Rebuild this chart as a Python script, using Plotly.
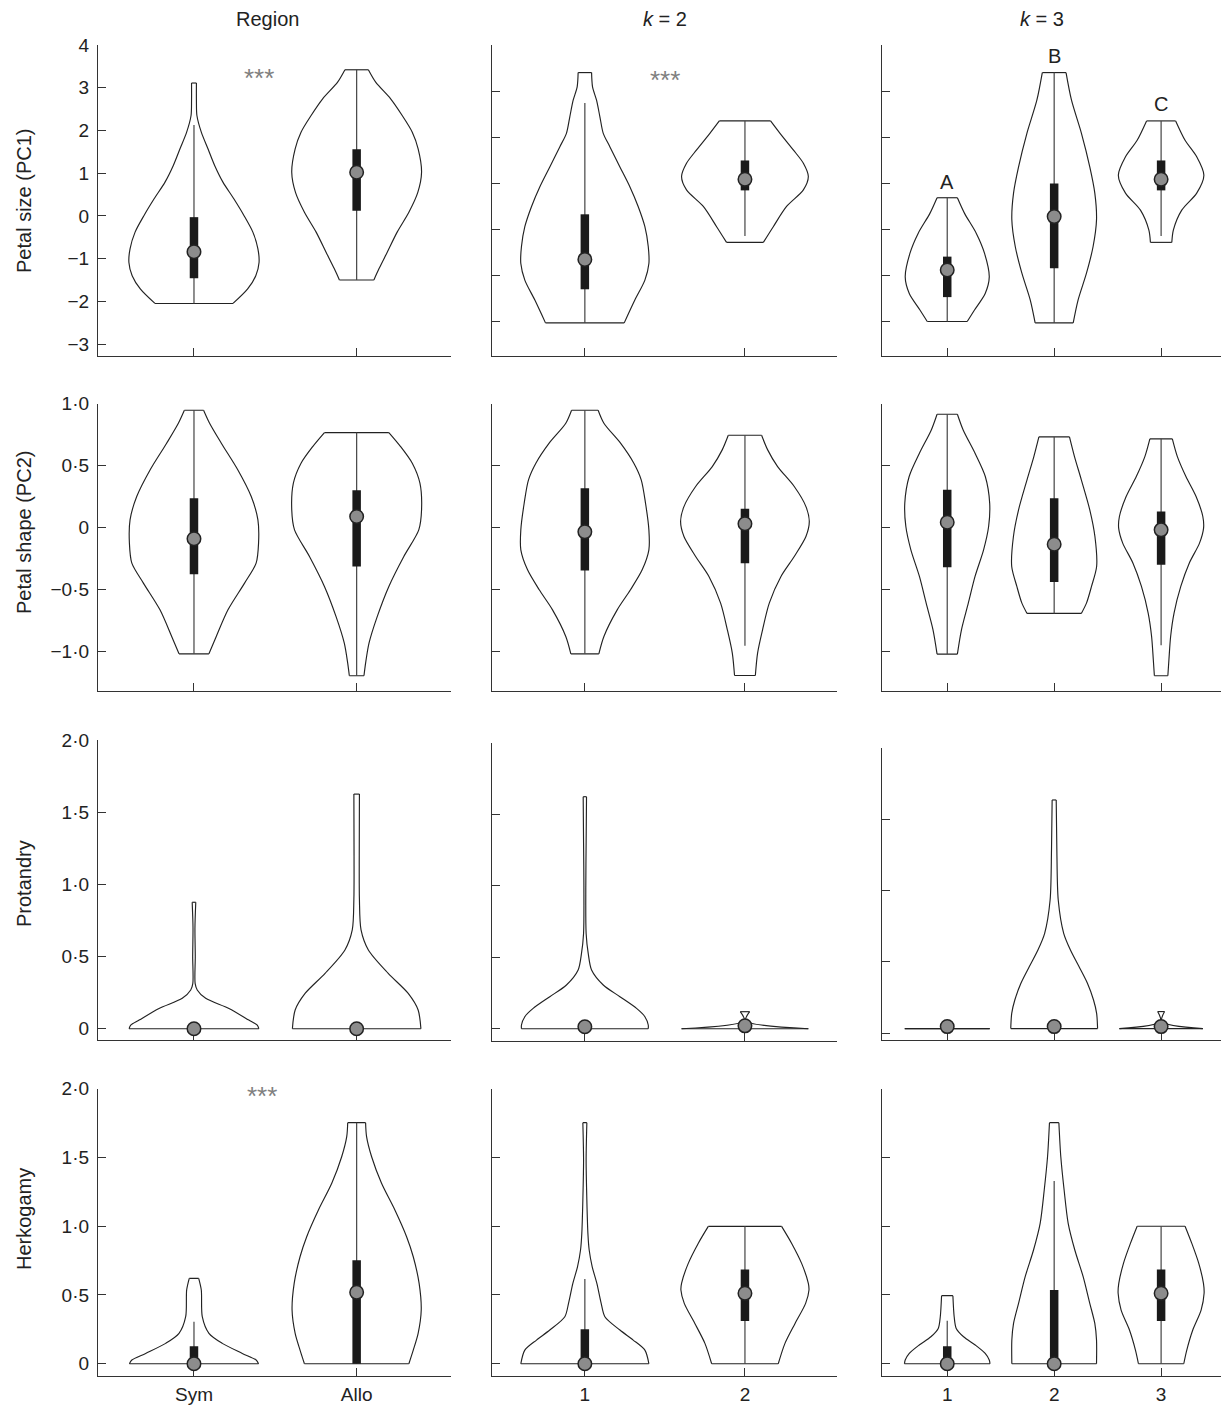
import plotly.graph_objects as go

W, H = 1221, 1406

# ------------------------------------------------------------------ data
ROW_TITLES = ["Petal size (PC1)", "Petal shape (PC2)", "Protandry", "Herkogamy"]
COL_TITLES = ["Region", "<i>k</i> = 2", "<i>k</i> = 3"]
CATS_REGION = ["Sym", "Allo"]
CATS_K2 = ["1", "2"]
CATS_K3 = ["1", "2", "3"]

PC1_TICKS = [4, 3, 2, 1, 0, -1, -2, -3]
PC1_TICKS_K = [4, 3, 2, 1, 0, -1, -2]
PC1_TICKTEXT = ["4", "3", "2", "1", "0", "−1", "−2", "−3"]
PC2_TICKS = [1.0, 0.5, 0, -0.5, -1.0]
PC2_TICKTEXT = ["1·0", "0·5", "0", "−0·5", "−1·0"]
POS_TICKS = [2.0, 1.5, 1.0, 0.5, 0]
POS_TICKTEXT = ["2·0", "1·5", "1·0", "0·5", "0"]

# --- Petal size (PC1), Region
PC1_SYM_V = [-2.05, -1.71, -1.40, -1.09, -0.77, -0.38, 0.01, 0.40, 0.79, 1.18, 1.57, 1.96, 2.35, 2.70, 3.11]
PC1_SYM_W = [0.240, 0.330, 0.380, 0.400, 0.393, 0.362, 0.307, 0.245, 0.178, 0.127, 0.086, 0.045, 0.018, 0.015, 0.015]
PC1_ALLO_V = [-1.50, -1.24, -0.85, -0.38, 0.085, 0.55, 1.02, 1.57, 1.96, 2.35, 2.74, 3.13, 3.42]
PC1_ALLO_W = [0.106, 0.137, 0.188, 0.249, 0.321, 0.376, 0.399, 0.378, 0.342, 0.280, 0.209, 0.117, 0.072]
PC1_REGION_MED = [-0.84, 1.02]
PC1_REGION_Q1 = [-1.46, 0.12]
PC1_REGION_Q3 = [-0.03, 1.56]
PC1_REGION_WLO = [-2.05, -1.50]
PC1_REGION_WHI = [2.13, 3.42]

# --- Petal size (PC1), k = 2
PC1_K2_1_V = [-2.04, -1.54, -1.11, -0.75, -0.38, 0.05, 0.49, 0.92, 1.35, 1.79, 2.08, 2.44, 2.80, 3.09, 3.40]
PC1_K2_1_W = [0.246, 0.313, 0.375, 0.400, 0.396, 0.375, 0.333, 0.281, 0.219, 0.156, 0.115, 0.094, 0.073, 0.048, 0.042]
PC1_K2_2_V = [-0.29, 0.05, 0.49, 0.85, 1.14, 1.43, 1.72, 2.08, 2.35]
PC1_K2_2_W = [0.115, 0.177, 0.260, 0.365, 0.396, 0.365, 0.302, 0.219, 0.160]
PC1_K2_MED = [-0.66, 1.08]
PC1_K2_Q1 = [-1.31, 0.84]
PC1_K2_Q3 = [0.32, 1.49]
PC1_K2_WLO = [-2.04, -0.15]
PC1_K2_WHI = [2.74, 2.35]

# --- Petal size (PC1), k = 3
PC1_K3_1_V = [-2.01, -1.76, -1.40, -1.04, -0.53, -0.09, 0.34, 0.68]
PC1_K3_1_W = [0.187, 0.255, 0.355, 0.393, 0.349, 0.271, 0.162, 0.095]
PC1_K3_2_V = [-2.04, -1.54, -0.96, -0.38, 0.20, 0.78, 1.35, 2.08, 2.80, 3.40]
PC1_K3_2_W = [0.178, 0.224, 0.302, 0.364, 0.396, 0.380, 0.333, 0.255, 0.162, 0.111]
PC1_K3_3_V = [-0.29, -0.02, 0.41, 0.78, 1.17, 1.57, 1.93, 2.35]
PC1_K3_3_W = [0.100, 0.115, 0.193, 0.333, 0.400, 0.333, 0.224, 0.136]
PC1_K3_MED = [-0.89, 0.27, 1.08]
PC1_K3_Q1 = [-1.48, -0.85, 0.84]
PC1_K3_Q3 = [-0.60, 0.99, 1.49]
PC1_K3_WLO = [-2.01, -2.04, -0.15]
PC1_K3_WHI = [0.68, 3.40, 2.35]
PC1_K3_LETTERS = ["A", "B", "C"]
PC1_K3_LETTER_Y = [1.03, 3.76, 2.72]

# --- Petal shape (PC2), Region
PC2_SYM_V = [-1.02, -0.88, -0.665, -0.449, -0.288, -0.126, 0.062, 0.25, 0.465, 0.681, 0.842, 0.947]
PC2_SYM_W = [0.092, 0.137, 0.209, 0.311, 0.382, 0.397, 0.393, 0.352, 0.270, 0.168, 0.096, 0.059]
PC2_ALLO_V = [-1.197, -1.095, -0.934, -0.718, -0.476, -0.234, -0.019, 0.143, 0.358, 0.519, 0.654, 0.767]
PC2_ALLO_W = [0.045, 0.055, 0.076, 0.127, 0.198, 0.290, 0.382, 0.399, 0.389, 0.342, 0.270, 0.198]
PC2_REGION_MED = [-0.091, 0.089]
PC2_REGION_Q1 = [-0.377, -0.315]
PC2_REGION_Q3 = [0.237, 0.301]
PC2_REGION_WLO = [-1.02, -1.197]
PC2_REGION_WHI = [0.947, 0.767]

# --- Petal shape (PC2), k = 2
PC2_K2_1_V = [-1.02, -0.88, -0.665, -0.503, -0.342, -0.18, -0.019, 0.196, 0.385, 0.519, 0.681, 0.842, 0.947]
PC2_K2_1_W = [0.0875, 0.119, 0.202, 0.285, 0.358, 0.400, 0.400, 0.379, 0.352, 0.306, 0.223, 0.119, 0.083]
PC2_K2_2_V = [-1.195, -1.014, -0.826, -0.611, -0.395, -0.234, -0.073, 0.048, 0.169, 0.331, 0.492, 0.627, 0.745]
PC2_K2_2_W = [0.065, 0.079, 0.110, 0.152, 0.225, 0.308, 0.381, 0.402, 0.381, 0.308, 0.204, 0.142, 0.104]
PC2_K2_MED = [-0.035, 0.03]
PC2_K2_Q1 = [-0.347, -0.288]
PC2_K2_Q3 = [0.317, 0.151]
PC2_K2_WLO = [-1.02, -0.955]
PC2_K2_WHI = [0.947, 0.745]

# --- Petal shape (PC2), k = 3
PC2_K3_1_V = [-1.022, -0.826, -0.611, -0.395, -0.18, 0.008, 0.196, 0.412, 0.60, 0.788, 0.915]
PC2_K3_1_W = [0.095, 0.133, 0.197, 0.260, 0.340, 0.387, 0.397, 0.356, 0.260, 0.149, 0.095]
PC2_K3_2_V = [-0.694, -0.611, -0.476, -0.315, -0.073, 0.143, 0.385, 0.573, 0.732]
PC2_K3_2_W = [0.254, 0.302, 0.349, 0.397, 0.381, 0.333, 0.254, 0.190, 0.143]
PC2_K3_3_V = [-1.197, -1.068, -0.88, -0.691, -0.476, -0.288, -0.126, -0.005, 0.089, 0.25, 0.412, 0.573, 0.716]
PC2_K3_3_W = [0.063, 0.073, 0.089, 0.121, 0.184, 0.263, 0.359, 0.397, 0.390, 0.327, 0.232, 0.152, 0.105]
PC2_K3_MED = [0.043, -0.135, -0.019]
PC2_K3_Q1 = [-0.32, -0.441, -0.301]
PC2_K3_Q3 = [0.304, 0.237, 0.129]
PC2_K3_WLO = [-1.022, -0.694, -0.95]
PC2_K3_WHI = [0.915, 0.732, 0.716]

# --- Protandry, Region
PRO_SYM_V = [0, 0.025, 0.06, 0.141, 0.211, 0.269, 0.315, 0.50, 0.70, 0.877]
PRO_SYM_W = [0.399, 0.389, 0.337, 0.215, 0.072, 0.020, 0.007, 0.008, 0.006, 0.011]
PRO_ALLO_V = [0, 0.13, 0.245, 0.384, 0.546, 0.685, 0.90, 1.20, 1.627]
PRO_ALLO_W = [0.395, 0.378, 0.317, 0.194, 0.072, 0.027, 0.017, 0.016, 0.017]
PRO_REGION_MED = [0, 0]

# --- Protandry, k = 2
PRO_K2_1_V = [0, 0.026, 0.084, 0.142, 0.224, 0.306, 0.411, 0.527, 0.667, 1.0, 1.3, 1.624]
PRO_K2_1_W = [0.396, 0.396, 0.375, 0.323, 0.219, 0.115, 0.042, 0.021, 0.008, 0.006, 0.008, 0.0104]
PRO_K2_2_V = [0, 0.056, 0.119]
PRO_K2_2_W = [0.396, 0.004, 0.029]
PRO_K2_MED = [0.014, 0.02]

# --- Protandry, k = 3
PRO_K3_1_V = [0.033, 0.033]
PRO_K3_1_W = [0.397, 0.397]
PRO_K3_2_V = [0.033, 0.14, 0.233, 0.35, 0.467, 0.583, 0.70, 0.933, 1.284, 1.634]
PRO_K3_2_W = [0.406, 0.397, 0.368, 0.311, 0.232, 0.152, 0.089, 0.038, 0.025, 0.019]
PRO_K3_3_V = [0.033, 0.082, 0.152]
PRO_K3_3_W = [0.390, 0.005, 0.032]
PRO_K3_MED = [0.047, 0.047, 0.047]

# --- Herkogamy, Region
HER_SYM_V = [0, 0.027, 0.075, 0.148, 0.221, 0.342, 0.536, 0.621]
HER_SYM_W = [0.397, 0.382, 0.297, 0.174, 0.092, 0.051, 0.045, 0.029]
HER_ALLO_V = [0, 0.099, 0.221, 0.39, 0.584, 0.778, 0.924, 1.118, 1.312, 1.505, 1.651, 1.753]
HER_ALLO_W = [0.321, 0.348, 0.378, 0.397, 0.384, 0.348, 0.307, 0.235, 0.153, 0.092, 0.061, 0.055]
HER_REGION_MED = [0, 0.519]
HER_REGION_Q1 = [0, 0]
HER_REGION_Q3 = [0.128, 0.752]
HER_REGION_WLO = [0, 0]
HER_REGION_WHI = [0.305, 1.753]

# --- Herkogamy, k = 2
HER_K2_1_V = [0, 0.099, 0.172, 0.245, 0.342, 0.439, 0.584, 0.705, 0.827, 0.948, 1.19, 1.481, 1.753]
HER_K2_1_W = [0.400, 0.375, 0.302, 0.219, 0.125, 0.102, 0.075, 0.046, 0.027, 0.019, 0.0125, 0.008, 0.0125]
HER_K2_2_V = [0, 0.148, 0.293, 0.439, 0.536, 0.584, 0.73, 0.875, 0.999]
HER_K2_2_W = [0.208, 0.250, 0.313, 0.379, 0.400, 0.396, 0.354, 0.292, 0.229]
HER_K2_MED = [0, 0.512]
HER_K2_Q1 = [0, 0.31]
HER_K2_Q3 = [0.25, 0.686]
HER_K2_WLO = [0, 0]
HER_K2_WHI = [0.616, 0.999]

# --- Herkogamy, k = 3
HER_K3_1_V = [0, 0.027, 0.075, 0.136, 0.196, 0.257, 0.342, 0.495]
HER_K3_1_W = [0.400, 0.393, 0.355, 0.262, 0.153, 0.084, 0.065, 0.053]
HER_K3_2_V = [0, 0.172, 0.293, 0.439, 0.633, 0.827, 1.021, 1.263, 1.505, 1.753]
HER_K3_2_W = [0.396, 0.396, 0.380, 0.333, 0.271, 0.193, 0.131, 0.093, 0.062, 0.044]
HER_K3_3_V = [0, 0.099, 0.245, 0.39, 0.512, 0.584, 0.73, 0.875, 1.0]
HER_K3_3_W = [0.212, 0.240, 0.296, 0.374, 0.402, 0.396, 0.352, 0.287, 0.224]
HER_K3_MED = [0, 0, 0.512]
HER_K3_Q1 = [0, 0, 0.31]
HER_K3_Q3 = [0.128, 0.536, 0.686]
HER_K3_WLO = [0, 0, 0]
HER_K3_WHI = [0.313, 1.328, 1.0]

# significance marks: (panel index, x, y, text)
STARS = [(0, 1.40, 3.22, "***"), (1, 1.50, 3.24, "***"), (9, 1.42, 1.95, "***")]

# ------------------------------------------------------------------ layout specs
COL_X = [(98, 451), (492, 837), (882, 1221)]
COL_XRANGE = [(0.41, 2.58), (0.42, 2.575), (0.39, 3.56)]

PANELS = [
    # row 1
    dict(row=0, col=0, cats=CATS_REGION, viol=[(PC1_SYM_V, PC1_SYM_W), (PC1_ALLO_V, PC1_ALLO_W)],
         med=PC1_REGION_MED, q1=PC1_REGION_Q1, q3=PC1_REGION_Q3, wlo=PC1_REGION_WLO, whi=PC1_REGION_WHI,
         ydom=(45, 356), yr=(-3.28, 4.0), tv=PC1_TICKS, tt=PC1_TICKTEXT),
    dict(row=0, col=1, cats=CATS_K2, viol=[(PC1_K2_1_V, PC1_K2_1_W), (PC1_K2_2_V, PC1_K2_2_W)],
         med=PC1_K2_MED, q1=PC1_K2_Q1, q3=PC1_K2_Q3, wlo=PC1_K2_WLO, whi=PC1_K2_WHI,
         ydom=(45, 356), yr=(-2.76, 4.0), tv=PC1_TICKS_K, tt=None),
    dict(row=0, col=2, cats=CATS_K3,
         viol=[(PC1_K3_1_V, PC1_K3_1_W), (PC1_K3_2_V, PC1_K3_2_W), (PC1_K3_3_V, PC1_K3_3_W)],
         med=PC1_K3_MED, q1=PC1_K3_Q1, q3=PC1_K3_Q3, wlo=PC1_K3_WLO, whi=PC1_K3_WHI,
         ydom=(45, 356), yr=(-2.76, 4.0), tv=PC1_TICKS_K, tt=None),
    # row 2
    dict(row=1, col=0, cats=CATS_REGION, viol=[(PC2_SYM_V, PC2_SYM_W), (PC2_ALLO_V, PC2_ALLO_W)],
         med=PC2_REGION_MED, q1=PC2_REGION_Q1, q3=PC2_REGION_Q3, wlo=PC2_REGION_WLO, whi=PC2_REGION_WHI,
         ydom=(403.7, 690.7), yr=(-1.318, 1.0), tv=PC2_TICKS, tt=PC2_TICKTEXT),
    dict(row=1, col=1, cats=CATS_K2, viol=[(PC2_K2_1_V, PC2_K2_1_W), (PC2_K2_2_V, PC2_K2_2_W)],
         med=PC2_K2_MED, q1=PC2_K2_Q1, q3=PC2_K2_Q3, wlo=PC2_K2_WLO, whi=PC2_K2_WHI,
         ydom=(403.7, 690.7), yr=(-1.318, 1.0), tv=PC2_TICKS, tt=None),
    dict(row=1, col=2, cats=CATS_K3,
         viol=[(PC2_K3_1_V, PC2_K3_1_W), (PC2_K3_2_V, PC2_K3_2_W), (PC2_K3_3_V, PC2_K3_3_W)],
         med=PC2_K3_MED, q1=PC2_K3_Q1, q3=PC2_K3_Q3, wlo=PC2_K3_WLO, whi=PC2_K3_WHI,
         ydom=(403.7, 690.7), yr=(-1.318, 1.0), tv=PC2_TICKS, tt=None),
    # row 3
    dict(row=2, col=0, cats=CATS_REGION, viol=[(PRO_SYM_V, PRO_SYM_W), (PRO_ALLO_V, PRO_ALLO_W)],
         med=PRO_REGION_MED, q1=None, q3=None, wlo=None, whi=None,
         ydom=(740.3, 1040), yr=(-0.078, 2.0), tv=POS_TICKS, tt=POS_TICKTEXT),
    dict(row=2, col=1, cats=CATS_K2, viol=[(PRO_K2_1_V, PRO_K2_1_W), (PRO_K2_2_V, PRO_K2_2_W)],
         med=PRO_K2_MED, q1=None, q3=None, wlo=None, whi=None,
         ydom=(743, 1040.7), yr=(-0.084, 2.0), tv=POS_TICKS, tt=None),
    dict(row=2, col=2, cats=CATS_K3,
         viol=[(PRO_K3_1_V, PRO_K3_1_W), (PRO_K3_2_V, PRO_K3_2_W), (PRO_K3_3_V, PRO_K3_3_W)],
         med=PRO_K3_MED, q1=None, q3=None, wlo=None, whi=None,
         ydom=(747.7, 1040), yr=(-0.047, 2.0), tv=POS_TICKS, tt=None),
    # row 4
    dict(row=3, col=0, cats=CATS_REGION, viol=[(HER_SYM_V, HER_SYM_W), (HER_ALLO_V, HER_ALLO_W)],
         med=HER_REGION_MED, q1=HER_REGION_Q1, q3=HER_REGION_Q3, wlo=HER_REGION_WLO, whi=HER_REGION_WHI,
         ydom=(1088.7, 1375.7), yr=(-0.087, 2.0), tv=POS_TICKS, tt=POS_TICKTEXT),
    dict(row=3, col=1, cats=CATS_K2, viol=[(HER_K2_1_V, HER_K2_1_W), (HER_K2_2_V, HER_K2_2_W)],
         med=HER_K2_MED, q1=HER_K2_Q1, q3=HER_K2_Q3, wlo=HER_K2_WLO, whi=HER_K2_WHI,
         ydom=(1088.7, 1375.7), yr=(-0.087, 2.0), tv=POS_TICKS, tt=None),
    dict(row=3, col=2, cats=CATS_K3,
         viol=[(HER_K3_1_V, HER_K3_1_W), (HER_K3_2_V, HER_K3_2_W), (HER_K3_3_V, HER_K3_3_W)],
         med=HER_K3_MED, q1=HER_K3_Q1, q3=HER_K3_Q3, wlo=HER_K3_WLO, whi=HER_K3_WHI,
         ydom=(1088.7, 1375.7), yr=(-0.087, 2.0), tv=POS_TICKS, tt=None),
]

ROW_TITLE_Y = [201, 533, 884, 1219]
COL_TITLE_X = [267, 665, 1042]

FONT = "Liberation Sans, Arial, Helvetica, sans-serif"
INK = "#222222"
AXIS = "#333333"

fig = go.Figure()
layout = dict(
    template="none",
    width=W, height=H, margin=dict(l=0, r=0, t=0, b=0, pad=0, autoexpand=False),
    paper_bgcolor="white", plot_bgcolor="white", showlegend=False,
    font=dict(family=FONT, color=INK, size=19),
)
annotations = []


def py(px):
    return 1 - px / H


for i, p in enumerate(PANELS):
    sfx = "" if i == 0 else str(i + 1)
    xref, yref = "x" + sfx, "y" + sfx
    n = len(p["cats"])
    pos = list(range(1, n + 1))

    # violin outlines
    cx, cy, kx, ky = [], [], [], []
    for c, (vs, ws) in zip(pos, p["viol"]):
        cx += [c - w for w in ws] + [None] + [c + w for w in ws] + [None]
        cy += list(vs) + [None] + list(vs) + [None]
        kx += [c - ws[0], c + ws[0], None, c - ws[-1], c + ws[-1], None]
        ky += [vs[0], vs[0], None, vs[-1], vs[-1], None]
    fig.add_trace(go.Scatter(x=cx, y=cy, mode="lines", xaxis=xref, yaxis=yref,
                             line=dict(color=INK, width=1.15, shape="spline", smoothing=0.8),
                             hoverinfo="skip"))
    fig.add_trace(go.Scatter(x=kx, y=ky, mode="lines", xaxis=xref, yaxis=yref,
                             line=dict(color=INK, width=1.15), hoverinfo="skip"))

    # whiskers
    if p["wlo"] is not None:
        wx, wy = [], []
        for c, lo, hi in zip(pos, p["wlo"], p["whi"]):
            if hi > lo:
                wx += [c, c, None]
                wy += [lo, hi, None]
        fig.add_trace(go.Scatter(x=wx, y=wy, mode="lines", xaxis=xref, yaxis=yref,
                                 line=dict(color="#444444", width=1.2), hoverinfo="skip"))
    # boxes
    if p["q1"] is not None:
        bx, by = [], []
        for c, lo, hi in zip(pos, p["q1"], p["q3"]):
            if hi > lo:
                bx += [c, c, None]
                by += [lo, hi, None]
        fig.add_trace(go.Scatter(x=bx, y=by, mode="lines", xaxis=xref, yaxis=yref,
                                 line=dict(color="#1a1a1a", width=8.5), hoverinfo="skip"))
    # medians
    fig.add_trace(go.Scatter(x=pos, y=p["med"], mode="markers", xaxis=xref, yaxis=yref,
                             marker=dict(size=13.5, color="#8c8c8c", line=dict(color=INK, width=1.5)),
                             cliponaxis=False, hoverinfo="skip"))

    x0, x1 = COL_X[p["col"]]
    y0, y1 = p["ydom"]
    last_row = p["row"] == 3
    layout["xaxis" + sfx] = dict(
        domain=[x0 / W, x1 / W], range=list(COL_XRANGE[p["col"]]), anchor=yref,
        tickvals=pos, ticktext=p["cats"], showticklabels=last_row,
        ticks="inside", ticklen=8, tickwidth=1.3, tickcolor=AXIS,
        showline=True, linecolor=AXIS, linewidth=1.3, showgrid=False, zeroline=False,
        tickfont=dict(size=19, color=INK, family=FONT), ticklabelstandoff=1,
        layer="below traces", fixedrange=True, automargin=False,
    )
    layout["yaxis" + sfx] = dict(
        domain=[py(y1), py(y0)], range=list(p["yr"]), anchor=xref,
        tickvals=p["tv"], ticktext=p["tt"] if p["tt"] else None,
        showticklabels=p["tt"] is not None,
        ticks="inside", ticklen=8, tickwidth=1.3, tickcolor=AXIS,
        showline=True, linecolor=AXIS, linewidth=1.3, showgrid=False, zeroline=False,
        tickfont=dict(size=19, color=INK, family=FONT), ticklabelstandoff=4,
        layer="below traces", fixedrange=True, automargin=False,
    )

# significance stars
for idx, sx, sy, txt in STARS:
    sfx = "" if idx == 0 else str(idx + 1)
    annotations.append(dict(x=sx, y=sy, xref="x" + sfx, yref="y" + sfx, text=txt, showarrow=False,
                            font=dict(size=26, color="#808080", family=FONT), yanchor="middle"))
# cluster letters (k = 3, PC1)
for c, (lab, ly) in enumerate(zip(PC1_K3_LETTERS, PC1_K3_LETTER_Y), start=1):
    annotations.append(dict(x=c, y=ly, xref="x3", yref="y3", text=lab, showarrow=False,
                            font=dict(size=20, color=INK, family=FONT), yanchor="middle"))
# row titles
for t, yy in zip(ROW_TITLES, ROW_TITLE_Y):
    annotations.append(dict(x=24 / W, y=py(yy), xref="paper", yref="paper", text=t, textangle=-90,
                            showarrow=False, font=dict(size=20, color=INK, family=FONT),
                            xanchor="center", yanchor="middle"))
# column titles
for t, xx in zip(COL_TITLES, COL_TITLE_X):
    annotations.append(dict(x=xx / W, y=py(19), xref="paper", yref="paper", text=t, showarrow=False,
                            font=dict(size=20, color=INK, family=FONT), xanchor="center",
                            yanchor="middle"))

layout["annotations"] = annotations
fig.update_layout(**layout)
fig.write_html("out.html", config={"displayModeBar": False},
               post_script="document.body.style.margin='0';document.body.style.overflow='hidden';")
